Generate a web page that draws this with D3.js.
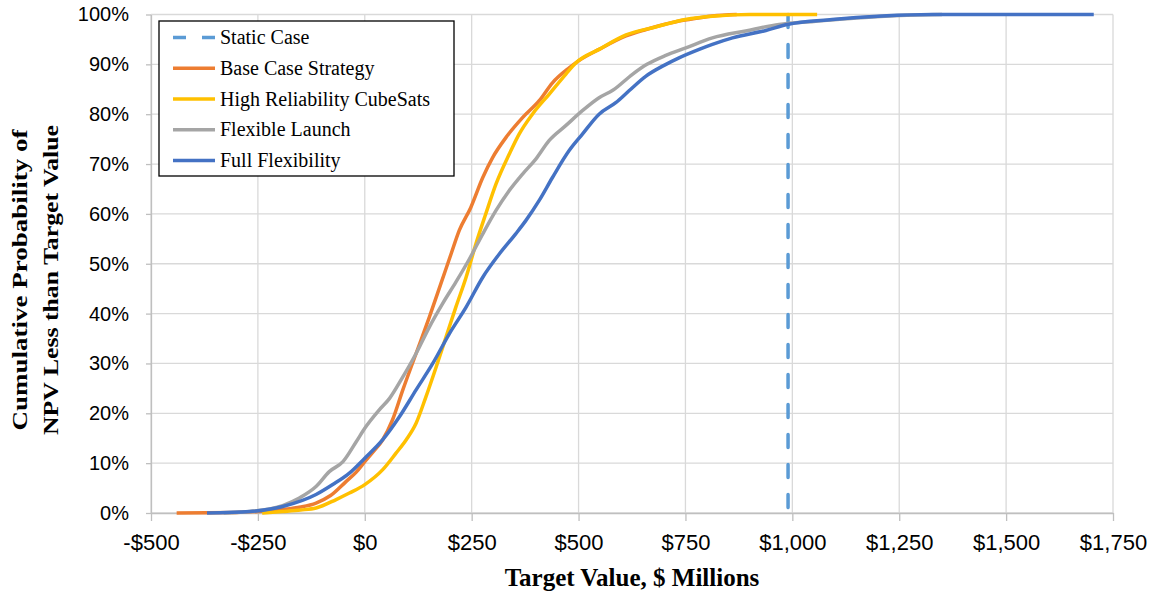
<!DOCTYPE html>
<html>
<head>
<meta charset="utf-8">
<script src="https://cdn.jsdelivr.net/npm/d3@7"></script>
<style>
  body { margin: 0; background: #fff; }
  text { font-family: "Times New Roman", "Liberation Serif", serif; fill: #000; }
  .tick text { font-family: Arial, "Liberation Sans", sans-serif; fill: #000; }
</style>
</head>
<body>
<div id="chart"></div>
<script>
// Tick values
const xTicks = [-500, -250, 0, 250, 500, 750, 1000, 1250, 1500, 1750];
const yTicks = [0, 10, 20, 30, 40, 50, 60, 70, 80, 90, 100];

// Static case NPV ($M)
const staticValue = 990;

// Series values: target value ($M) and cumulative probability (%)
const baseX = [-440, -300, -250, -192, -150, -114, -80, -44, -20, 0, 20, 42, 65, 89, 120, 151, 178, 202, 221, 248, 276, 299, 330, 369, 408, 439, 478, 500, 548, 611, 658, 700, 735, 780, 813, 870];
const baseY = [0, 0.1, 0.3, 0.7, 1.2, 2, 3.5, 6.3, 8.2, 10.3, 12.3, 14.7, 18.7, 24.7, 32, 39.3, 46, 52, 56.7, 61.3, 67.3, 71.3, 75.3, 79.3, 82.7, 86.3, 89.3, 90.7, 93, 95.7, 97, 98, 98.7, 99.3, 99.7, 100];

const highX = [-240, -192, -150, -114, -67, -36, 0, 42, 73, 97, 120, 143, 167, 190, 213, 237, 260, 283, 307, 338, 361, 392, 431, 470, 494, 548, 611, 680, 750, 820, 900, 1058];
const highY = [0, 0.3, 0.6, 1, 2.7, 4, 5.7, 8.7, 12, 14.7, 18, 23.3, 29.3, 35.3, 41.3, 47.3, 54, 60, 66, 72, 76, 80, 84, 88, 90.3, 93, 95.9, 97.5, 99, 99.7, 100, 100];

const flexX = [-330, -269, -192, -153, -114, -83, -51, -20, 0, 34, 58, 89, 120, 151, 182, 213, 245, 276, 307, 338, 369, 400, 431, 470, 509, 548, 580, 626, 660, 704, 751, 813, 891, 969, 1050, 1150, 1250, 1350];
const flexY = [0, 0.3, 1.5, 3, 5.3, 8.3, 10.3, 14.3, 17, 20.7, 23, 27.3, 32, 37.3, 42, 46.3, 51, 56, 60.7, 64.7, 68, 71, 74.7, 77.7, 80.7, 83.3, 84.8, 88, 90, 91.8, 93.3, 95.3, 96.7, 98, 98.6, 99.3, 99.8, 100];

const fullX = [-369, -269, -192, -114, -75, -36, 0, 42, 81, 120, 159, 198, 237, 276, 315, 353, 377, 408, 439, 478, 509, 548, 587, 618, 657, 700, 735, 782, 813, 860, 938, 988, 1093, 1210, 1327, 1705];
const fullY = [0, 0.3, 1.3, 3.7, 5.7, 8, 11, 14.7, 19.3, 24.7, 30, 36, 41.3, 47.3, 52, 56, 58.7, 62.7, 67.3, 72.7, 76, 80, 82.3, 84.7, 87.6, 89.8, 91.3, 93, 94, 95.3, 96.8, 98, 99, 99.7, 100, 100];

const seriesNames = ["Static Case", "Base Case Strategy", "High Reliability CubeSats", "Flexible Launch", "Full Flexibility"];
const seriesColors = ["#5B9BD5", "#ED7D31", "#FFC000", "#A5A5A5", "#4472C4"];

const width = 1154, height = 594;
const svg = d3.select("#chart").append("svg")
    .attr("width", width)
    .attr("height", height);

const x = d3.scaleLinear().domain([-500, 1750]).range([151, 1113]);
const y = d3.scaleLinear().domain([0, 100]).range([513, 14.5]);

// Gridlines
svg.append("g")
    .selectAll("line")
    .data(xTicks)
    .join("line")
        .attr("x1", d => x(d)).attr("x2", d => x(d))
        .attr("y1", y(0)).attr("y2", y(100))
        .attr("stroke", "#d9d9d9").attr("stroke-width", 1.3);
svg.append("g")
    .selectAll("line")
    .data(yTicks)
    .join("line")
        .attr("x1", x(-500)).attr("x2", x(1750))
        .attr("y1", d => y(d)).attr("y2", d => y(d))
        .attr("stroke", "#d9d9d9").attr("stroke-width", 1.3);

// Axes
const xAxis = svg.append("g")
    .attr("transform", `translate(0, ${y(0)})`)
    .call(d3.axisBottom(x).tickValues(xTicks).tickSizeInner(8).tickSizeOuter(0)
        .tickFormat(d => (d < 0 ? "-$" : "$") + d3.format(",")(Math.abs(d))));
xAxis.select(".domain").attr("stroke", "#bfbfbf").attr("stroke-width", 1.3);
xAxis.selectAll(".tick line").attr("stroke", "#bfbfbf").attr("stroke-width", 1.3);
xAxis.selectAll(".tick text")
    .attr("y", 30)
    .attr("dy", "0.32em")
    .style("font-size", "22px");

const yAxis = svg.append("g")
    .attr("transform", `translate(${x(-500)}, 0)`)
    .call(d3.axisLeft(y).tickValues(yTicks).tickSizeInner(5).tickSizeOuter(0)
        .tickFormat(d => d + "%"));
yAxis.select(".domain").attr("stroke", "#bfbfbf").attr("stroke-width", 1.3);
yAxis.selectAll(".tick line").attr("stroke", "#bfbfbf").attr("stroke-width", 1.3);
yAxis.selectAll(".tick text")
    .attr("x", -22)
    .style("font-size", "20px");

// Static case line
svg.append("line")
    .attr("x1", x(staticValue)).attr("x2", x(staticValue))
    .attr("y1", y(100)).attr("y2", y(0))
    .attr("stroke", seriesColors[0])
    .attr("stroke-width", 3.5)
    .attr("stroke-dasharray", "13,17")
    .attr("stroke-linecap", "round");

// Curves
const line = d3.line()
    .x(d => x(d[0]))
    .y(d => y(d[1]))
    .curve(d3.curveMonotoneX);

const curves = [
    {xs: baseX, ys: baseY, color: seriesColors[1]},
    {xs: highX, ys: highY, color: seriesColors[2]},
    {xs: flexX, ys: flexY, color: seriesColors[3]},
    {xs: fullX, ys: fullY, color: seriesColors[4]}
];
curves.forEach(c => {
    svg.append("path")
        .datum(c.xs.map((v, i) => [v, c.ys[i]]))
        .attr("fill", "none")
        .attr("stroke", c.color)
        .attr("stroke-width", 3.5)
        .attr("stroke-linejoin", "round")
        .attr("d", line);
});

// Legend
const legend = svg.append("g");
legend.append("rect")
    .attr("x", 159).attr("y", 21)
    .attr("width", 295).attr("height", 155)
    .attr("fill", "#fff")
    .attr("stroke", "#000")
    .attr("stroke-width", 1.3);
const rowY = d3.scalePoint().domain(seriesNames).range([37.5, 160.5]);
legend.selectAll("line")
    .data(seriesNames)
    .join("line")
        .attr("x1", 173).attr("x2", 215)
        .attr("y1", d => rowY(d)).attr("y2", d => rowY(d))
        .attr("stroke", (d, i) => seriesColors[i])
        .attr("stroke-width", 3.5)
        .attr("stroke-dasharray", (d, i) => i === 0 ? "13,16" : null);
legend.selectAll("text")
    .data(seriesNames)
    .join("text")
        .attr("x", 220)
        .attr("y", d => rowY(d))
        .attr("dy", "0.33em")
        .style("font-size", "20px")
        .text(d => d);

// Axis titles
svg.append("text")
    .attr("x", 632).attr("y", 586)
    .attr("text-anchor", "middle")
    .style("font-size", "25px")
    .style("font-weight", "bold")
    .text("Target Value, $ Millions");

const yTitle = svg.append("g")
    .attr("transform", "translate(0, 280) rotate(-90)");
yTitle.append("text")
    .attr("x", 0).attr("y", 27)
    .attr("text-anchor", "middle")
    .attr("textLength", 301)
    .attr("lengthAdjust", "spacingAndGlyphs")
    .style("font-size", "22px")
    .style("font-weight", "bold")
    .text("Cumulative Probability of");
yTitle.append("text")
    .attr("x", 0).attr("y", 58)
    .attr("text-anchor", "middle")
    .attr("textLength", 310)
    .attr("lengthAdjust", "spacingAndGlyphs")
    .style("font-size", "22px")
    .style("font-weight", "bold")
    .text("NPV Less than Target Value");
</script>
</body>
</html>
